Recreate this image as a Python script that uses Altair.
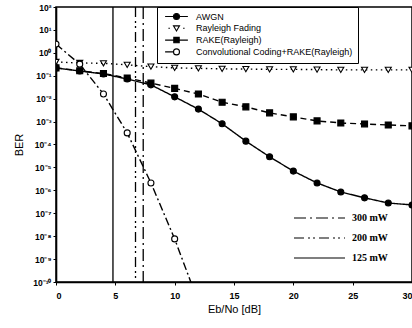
import altair as alt
import pandas as pd

# ---- data ----
snr = [0, 2, 4, 6, 8, 10, 12, 14, 16, 18, 20, 22, 24, 26, 28, 30]
awgn = [0.22, 0.16, 0.12, 0.072, 0.040, 0.012, 3.5e-3, 8.0e-4, 1.4e-4, 2.9e-5,
        6.9e-6, 2.1e-6, 8.5e-7, 4.7e-7, 2.8e-7, 2.3e-7]
rayleigh = [0.40, 0.36, 0.35, 0.30, 0.25, 0.22, 0.21, 0.20, 0.195, 0.19,
            0.19, 0.185, 0.18, 0.18, 0.18, 0.18]
rake = [0.22, 0.165, 0.125, 0.08, 0.048, 0.028, 0.016, 7.0e-3, 4.4e-3, 2.4e-3,
        1.6e-3, 1.07e-3, 8.7e-4, 7.9e-4, 7.1e-4, 6.5e-4]
conv_snr = [0, 2, 4, 6, 8, 10, 12]
conv = [2.4, 0.32, 0.016, 3.2e-4, 2.1e-6, 7.6e-9, 1.3e-11]

series_names = ["AWGN", "Rayleigh Fading", "RAKE(Rayleigh)",
                "Convolutional Coding+RAKE(Rayleigh)"]
power_labels = ["300 mW", "200 mW", "125 mW"]
power_snr = [7.35, 6.7, 4.8]

x_ticks = [0, 5, 10, 15, 20, 25, 30]
y_exponents = list(range(-10, 3))

# ---- tables ----
rows = []
for name, xs, ys in [(series_names[0], snr, awgn), (series_names[1], snr, rayleigh),
                     (series_names[2], snr, rake), (series_names[3], conv_snr, conv)]:
    for xv, yv in zip(xs, ys):
        rows.append({"series": name, "snr": xv, "ber": yv})
df = pd.DataFrame(rows)
legend_df = pd.DataFrame({"series": series_names})
power_df = pd.DataFrame({"label": power_labels, "snr": power_snr})

FONT = "Liberation Sans"

sup = "['⁻¹⁰','⁻⁹','⁻⁸','⁻⁷','⁻⁶','⁻⁵','⁻⁴','⁻³','⁻²','⁻¹','⁰','¹','²']"
x_enc = alt.X("snr:Q", scale=alt.Scale(domain=[0, 30], nice=False, zero=False),
              axis=alt.Axis(values=x_ticks, title="Eb/No [dB]", format="d"))
y_enc = alt.Y("ber:Q", scale=alt.Scale(type="log", domain=[1e-10, 100], nice=False),
              axis=alt.Axis(values=[10.0 ** k for k in y_exponents], title="BER",
                            labelExpr="'10' + " + sup + "[round(log(datum.value)/LN10)+10]"))

base = alt.Chart(df).encode(x=x_enc, y=y_enc)

dashes = {series_names[0]: [1, 0], series_names[1]: [1.5, 3.5],
          series_names[2]: [6, 4], series_names[3]: [8, 3, 2, 3]}
lines = [
    base.transform_filter(alt.datum.series == n).mark_line(
        color="black", strokeWidth=1.4, strokeDash=dashes[n], clip=True)
    for n in series_names
]

points = base.mark_point(size=36, stroke="black", strokeWidth=1.1, opacity=1, clip=True).encode(
    shape=alt.Shape("series:N", scale=alt.Scale(
        domain=series_names, range=["circle", "triangle-down", "square", "circle"]), legend=None),
    fill=alt.Fill("series:N", scale=alt.Scale(
        domain=series_names, range=["black", "white", "black", "white"]), legend=None),
)

# legend symbols: marker with a short line segment through it
sym_paths = [
    "M-3.8,0H-1M1,0H3.8M-1,0A1,1,0,1,1,1,0A1,1,0,1,1,-1,0Z",
    "M-2.7,0H-2.2M2.2,0H2.7M-1,-0.8L1,-0.8L0,0.9Z",
    "M-3.8,0H-0.9M0.9,0H3.8M-0.9,-0.9H0.9V0.9H-0.9Z",
    "M-3.8,0H-1M-1,0A1,1,0,1,1,1,0A1,1,0,1,1,-1,0Z",
]
long_label = series_names[3]
pad = "\u00a0" * 12
leg_kw = dict(title=None, orient="none", legendX=101, legendY=0,
              strokeColor="black", fillColor="white", padding=5,
              symbolOffset=10, labelOffset=15, rowPadding=0.8,
              symbolSize=36, symbolStrokeWidth=1.1, symbolOpacity=1,
              labelFont=FONT, labelFontSize=9, labelColor="black", labelLimit=400,
              labelExpr="datum.label + (datum.label == '" + long_label + "' ? '" + pad + "' : '')")
legend1 = alt.Chart(legend_df).transform_filter("false").mark_point(
    size=36, opacity=1, strokeWidth=1.1).encode(
    shape=alt.Shape("series:N", scale=alt.Scale(domain=series_names, range=sym_paths),
                    legend=alt.Legend(**leg_kw)),
    fill=alt.Fill("series:N", scale=alt.Scale(domain=series_names,
                                              range=["black", "white", "black", "white"]),
                  legend=alt.Legend(**leg_kw)),
    stroke=alt.Stroke("series:N", scale=alt.Scale(domain=series_names,
                                                  range=["black", "black", "black", "black"]),
                      legend=alt.Legend(**leg_kw)),
)

rules = alt.Chart(power_df).mark_rule(color="black", strokeWidth=1.3).encode(
    x=alt.X("snr:Q"),
    strokeDash=alt.StrokeDash("label:N", scale=alt.Scale(
        domain=power_labels, range=[[12, 4, 2, 4], [10, 4, 2, 3, 2, 4], [1, 0]]),
        legend=alt.Legend(title=None, orient="none", legendX=258.5, legendY=206,
                          padding=0, symbolType="M-8.5,0H8.5", symbolSize=36,
                          symbolStrokeColor="black", symbolStrokeWidth=1.2,
                          labelOffset=27.5, rowPadding=10,
                          labelFont="Liberation Serif", labelFontSize=10,
                          labelFontWeight="bold", labelColor="black")),
)

chart = alt.layer(rules, *lines, points, legend1).resolve_scale(
    shape="independent", fill="independent", stroke="independent", strokeDash="independent"
).properties(
    width=356, height=275,
    autosize=alt.AutoSizeParams(type="none"),
    padding={"left": 56, "top": 7, "right": 0, "bottom": 46},
    background="white",
).configure_view(
    stroke="black", strokeWidth=1.5
).configure_axis(
    grid=False, domainColor="black", domainWidth=1.6, tickColor="black", tickSize=3,
    labelFont=FONT, labelColor="black", labelFontSize=9, titleFont=FONT,
    titleColor="black", titleFontWeight="normal", titleFontSize=11,
    labelFontWeight="bold",
).configure_axisX(
    labelPadding=6, titlePadding=3,
).configure_axisY(
    labelPadding=2, titlePadding=8, labelFontSize=8.5,
)

chart.save("out.html", embed_options={"renderer": "svg", "actions": False})
